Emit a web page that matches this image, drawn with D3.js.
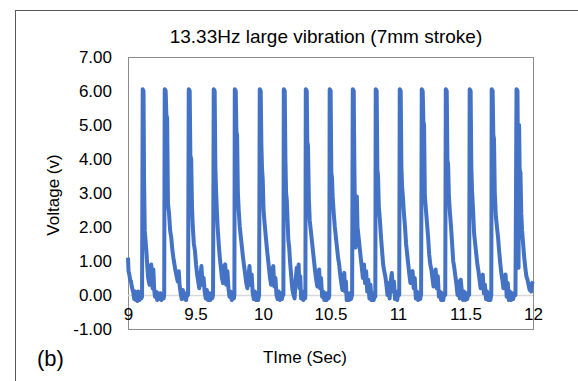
<!DOCTYPE html>
<html>
<head>
<meta charset="utf-8">
<script src="https://cdn.jsdelivr.net/npm/d3@7"></script>
<style>
  html, body { margin: 0; padding: 0; background: #fff; }
  svg { display: block; font-family: "Liberation Sans", Arial, sans-serif; }
</style>
</head>
<body>
<div id="chart"></div>
<script>
const title = '13.33Hz large vibration (7mm stroke)';
const xLabel = 'TIme (Sec)';
const yLabel = 'Voltage (v)';
const panelLabel = '(b)';
const xTicks = [9, 9.5, 10, 10.5, 11, 11.5, 12];
const yTicks = [-1, 0, 1, 2, 3, 4, 5, 6, 7];

// one line per pulse
const time = [
  9.000, 9.004, 9.010, 9.016, 9.022, 9.028, 9.034, 9.040, 9.046, 9.052, 9.058, 9.064, 9.070, 9.076, 9.084, 9.092, 9.098, 9.104,
  9.109, 9.115, 9.119, 9.124, 9.130, 9.136, 9.142, 9.148, 9.154, 9.160, 9.166, 9.172, 9.178, 9.182, 9.188, 9.194, 9.200, 9.208, 9.216, 9.224, 9.232, 9.240, 9.248, 9.256, 9.264, 9.268,
  9.272, 9.279, 9.284, 9.290, 9.296, 9.304, 9.312, 9.320, 9.328, 9.336, 9.344, 9.352, 9.360, 9.368, 9.376, 9.382, 9.390, 9.398, 9.406, 9.414, 9.422, 9.430, 9.438, 9.445,
  9.450, 9.457, 9.462, 9.468, 9.474, 9.480, 9.488, 9.496, 9.504, 9.512, 9.520, 9.528, 9.536, 9.544, 9.552, 9.560, 9.568, 9.576, 9.584, 9.592, 9.600, 9.608, 9.616, 9.624, 9.630,
  9.635, 9.642, 9.647, 9.652, 9.658, 9.664, 9.672, 9.680, 9.688, 9.696, 9.704, 9.712, 9.720, 9.728, 9.736, 9.744, 9.752, 9.760, 9.768, 9.776, 9.784, 9.788,
  9.791, 9.798, 9.803, 9.808, 9.814, 9.820, 9.828, 9.836, 9.844, 9.852, 9.860, 9.868, 9.876, 9.884, 9.892, 9.900, 9.908, 9.916, 9.924, 9.932, 9.940, 9.948, 9.956, 9.964, 9.971,
  9.976, 9.983, 9.988, 9.993, 9.998, 10.004, 10.012, 10.020, 10.028, 10.036, 10.044, 10.052, 10.060, 10.068, 10.076, 10.084, 10.092, 10.100, 10.108, 10.116, 10.124, 10.132, 10.140, 10.148, 10.151,
  10.154, 10.161, 10.166, 10.171, 10.176, 10.182, 10.188, 10.194, 10.200, 10.206, 10.212, 10.218, 10.226, 10.234, 10.242, 10.250, 10.258, 10.264, 10.270, 10.276, 10.282, 10.290, 10.298, 10.306, 10.312, 10.314,
  10.317, 10.324, 10.328, 10.333, 10.340, 10.346, 10.354, 10.362, 10.370, 10.378, 10.386, 10.394, 10.402, 10.410, 10.416, 10.422, 10.430, 10.438, 10.446, 10.454, 10.462, 10.470, 10.478, 10.486, 10.491,
  10.494, 10.501, 10.506, 10.511, 10.516, 10.524, 10.532, 10.540, 10.548, 10.556, 10.564, 10.572, 10.580, 10.588, 10.596, 10.602, 10.608, 10.614, 10.620, 10.628, 10.636, 10.644, 10.652, 10.660,
  10.665, 10.672, 10.677, 10.681, 10.686, 10.690, 10.695, 10.700, 10.708, 10.716, 10.724, 10.732, 10.740, 10.748, 10.756, 10.764, 10.772, 10.780, 10.788, 10.796, 10.804, 10.812, 10.820, 10.828, 10.832,
  10.835, 10.842, 10.847, 10.852, 10.858, 10.866, 10.874, 10.882, 10.890, 10.898, 10.906, 10.914, 10.922, 10.930, 10.938, 10.946, 10.954, 10.962, 10.970, 10.978, 10.986, 10.994, 11.002, 11.009,
  11.013, 11.020, 11.025, 11.030, 11.036, 11.044, 11.052, 11.060, 11.068, 11.076, 11.084, 11.092, 11.100, 11.108, 11.116, 11.124, 11.132, 11.140, 11.148, 11.156, 11.164, 11.171,
  11.176, 11.183, 11.188, 11.193, 11.199, 11.207, 11.215, 11.223, 11.231, 11.239, 11.247, 11.255, 11.263, 11.271, 11.279, 11.287, 11.295, 11.303, 11.311, 11.319, 11.327, 11.335, 11.343, 11.350,
  11.354, 11.361, 11.366, 11.371, 11.377, 11.385, 11.393, 11.401, 11.409, 11.417, 11.425, 11.433, 11.441, 11.449, 11.457, 11.465, 11.473, 11.481, 11.489, 11.497, 11.505, 11.513, 11.521, 11.527,
  11.531, 11.538, 11.543, 11.548, 11.556, 11.564, 11.572, 11.580, 11.588, 11.596, 11.604, 11.612, 11.620, 11.628, 11.636, 11.644, 11.652, 11.660, 11.668, 11.676, 11.684, 11.691,
  11.694, 11.701, 11.706, 11.711, 11.717, 11.725, 11.733, 11.741, 11.749, 11.757, 11.765, 11.773, 11.781, 11.789, 11.797, 11.805, 11.813, 11.821, 11.829, 11.837, 11.845, 11.853, 11.861, 11.870,
  11.878, 11.885, 11.889, 11.893, 11.897, 11.901, 11.907, 11.913, 11.919, 11.927, 11.935, 11.943, 11.951, 11.959, 11.967, 11.975, 11.981, 11.987, 11.993, 12.000
];

const voltage = [
  1.10, 0.70, 0.60, 0.45, 0.40, 0.25, 0.15, 0.05, -0.12, 0.10, -0.15, 0.05, -0.18, 0.10, -0.15, 0.05, -0.10, -0.05,
  6.05, 6.00, 3.40, 1.90, 1.60, 1.30, 0.90, 0.55, 0.40, 0.30, 0.75, 0.90, 0.55, 0.20, 0.75, 0.15, -0.05, 0.10, -0.15, 0.05, -0.12, 0.05, -0.15, 0.00, -0.10, 0.00,
  6.05, 6.00, 5.30, 5.20, 2.70, 2.40, 1.90, 1.70, 1.35, 1.10, 0.90, 0.70, 0.55, 0.40, 0.70, 0.30, 0.05, -0.12, 0.15, -0.10, 0.05, -0.15, 0.05, 0.00,
  6.05, 6.00, 4.10, 4.00, 2.60, 2.00, 1.50, 1.30, 0.90, 0.60, 0.40, 0.20, 0.55, 0.85, 0.30, 0.50, 0.10, -0.10, 0.15, -0.15, 0.05, -0.15, 0.05, -0.10, 0.00,
  6.05, 6.00, 3.80, 3.10, 2.50, 2.00, 1.50, 1.10, 0.80, 0.50, 0.35, 0.85, 0.90, 0.30, 0.70, 0.20, -0.05, 0.10, -0.15, 0.05, -0.10, 0.00,
  6.05, 6.00, 4.80, 4.70, 3.00, 2.50, 2.00, 1.70, 1.40, 1.10, 0.85, 0.60, 0.35, 0.20, 0.55, 0.85, 0.30, 0.60, 0.05, -0.12, 0.10, -0.15, 0.05, -0.15, 0.00,
  6.05, 6.00, 4.40, 3.70, 3.40, 2.50, 2.10, 1.75, 1.40, 1.10, 0.80, 0.50, 0.30, 0.70, 0.85, 0.25, 0.50, 0.00, -0.12, 0.10, -0.15, 0.05, -0.12, 0.05, 0.00,
  6.05, 6.00, 4.00, 3.00, 2.80, 2.20, 1.60, 1.40, 1.00, 0.70, 0.40, 0.15, 0.00, -0.10, 0.45, 0.80, 0.50, 0.90, 0.20, 0.55, -0.10, 0.10, -0.15, 0.05, -0.10, 0.00,
  6.05, 6.00, 4.50, 4.40, 2.80, 2.20, 1.90, 1.60, 1.30, 1.00, 0.70, 0.45, 0.25, 0.60, 0.75, 0.20, 0.50, -0.05, 0.10, -0.15, 0.05, -0.15, 0.05, -0.10, 0.00,
  6.05, 6.00, 3.60, 3.45, 2.90, 2.40, 2.00, 1.70, 1.40, 1.10, 0.90, 0.60, 0.35, 0.15, 0.55, 0.65, 0.10, 0.40, -0.15, 0.05, -0.15, 0.05, -0.12, 0.00,
  6.05, 6.00, 3.70, 2.50, 1.40, 2.80, 2.90, 2.00, 1.70, 1.40, 1.10, 0.80, 0.50, 0.90, 0.35, 0.70, 0.10, 0.45, -0.10, 0.30, -0.15, 0.05, -0.15, 0.00, -0.05,
  6.05, 6.00, 3.70, 3.50, 2.60, 2.20, 1.70, 1.30, 0.90, 0.70, 0.55, 0.30, 0.00, 0.35, -0.10, 0.40, 0.65, 0.10, 0.40, -0.12, 0.10, -0.15, 0.05, 0.00,
  6.05, 6.00, 3.80, 3.20, 2.90, 2.40, 2.00, 1.50, 1.20, 0.90, 0.60, 0.35, 0.65, 0.70, 0.20, 0.50, -0.10, 0.10, -0.15, 0.05, -0.12, 0.00,
  6.05, 6.00, 5.10, 5.00, 2.90, 2.50, 2.10, 1.70, 1.20, 0.90, 0.75, 0.50, 0.25, 0.55, 0.75, 0.20, 0.55, -0.05, 0.10, -0.15, 0.05, -0.15, 0.05, 0.00,
  6.05, 6.00, 3.95, 3.85, 2.90, 2.40, 2.00, 1.50, 1.00, 0.80, 0.55, 0.30, 0.00, 0.40, -0.10, 0.45, 0.10, -0.15, 0.10, -0.15, 0.05, -0.12, 0.05, 0.00,
  6.05, 6.00, 3.80, 3.10, 2.50, 1.80, 1.50, 1.20, 0.90, 0.70, 0.45, 0.20, 0.45, 0.60, 0.05, 0.30, -0.12, 0.10, -0.15, 0.05, -0.15, 0.00,
  6.05, 6.00, 4.70, 4.60, 3.00, 2.30, 2.00, 1.70, 1.30, 0.95, 0.65, 0.45, 0.20, 0.50, 0.60, -0.05, 0.35, -0.15, 0.10, -0.15, 0.05, -0.12, 0.05, 0.00,
  6.05, 6.00, 3.60, 0.80, 5.00, 3.70, 3.60, 2.40, 1.90, 1.50, 1.10, 0.80, 0.55, 0.45, 0.30, 0.15, 0.25, 0.10, 0.35, 0.40
];

const width = 578;
const height = 381;
const plot = { left: 128, right: 533, top: 57, bottom: 329 };
const font = '"Liberation Sans", Arial, sans-serif';

const svg = d3.select('#chart')
  .append('svg')
  .attr('width', width)
  .attr('height', height);

// outer frame of the figure (runs off the right and bottom edges)
svg.append('rect')
  .attr('x', 15.5)
  .attr('y', 10.5)
  .attr('width', 700)
  .attr('height', 500)
  .attr('fill', 'none')
  .attr('stroke', '#595959')
  .attr('stroke-width', 1);

const x = d3.scaleLinear().domain([9, 12]).range([plot.left, plot.right]);
const y = d3.scaleLinear().domain([-1, 7]).range([plot.bottom, plot.top]);

// Plot border
svg.append('rect')
  .attr('x', plot.left + 0.5)
  .attr('y', plot.top + 0.5)
  .attr('width', plot.right - plot.left)
  .attr('height', plot.bottom - plot.top)
  .attr('fill', 'none')
  .attr('stroke', '#8c8c8c')
  .attr('stroke-width', 1);

// Zero line
svg.append('line')
  .attr('x1', plot.left)
  .attr('x2', plot.right)
  .attr('y1', Math.round(y(0)) + 0.5)
  .attr('y2', Math.round(y(0)) + 0.5)
  .attr('stroke', '#d9d9d9')
  .attr('stroke-width', 1.5);

// Y axis
const yAxis = svg.append('g')
  .attr('transform', `translate(${plot.left},0)`)
  .call(d3.axisLeft(y).tickValues(yTicks).tickSize(0).tickPadding(16)
    .tickFormat(d => d.toFixed(2)));
yAxis.select('.domain').remove();
yAxis.selectAll('text')
  .attr('font-size', 17)
  .attr('font-family', font)
  .attr('fill', '#000');

// X axis sits on the zero line
const xAxis = svg.append('g')
  .attr('transform', `translate(0,${y(0)})`)
  .call(d3.axisBottom(x).tickValues(xTicks).tickSize(0).tickPadding(13).tickFormat(d => String(d)));
xAxis.select('.domain').remove();
xAxis.selectAll('text')
  .attr('font-size', 17)
  .attr('font-family', font)
  .attr('fill', '#000');

// Line
const line = d3.line()
  .x(i => x(time[i]))
  .y(i => y(voltage[i]));

svg.append('path')
  .datum(d3.range(time.length))
  .attr('fill', 'none')
  .attr('stroke', '#4472c4')
  .attr('stroke-width', 4)
  .attr('stroke-linejoin', 'round')
  .attr('d', line);

// Titles
svg.append('text')
  .attr('x', 326)
  .attr('y', 43)
  .attr('text-anchor', 'middle')
  .attr('font-size', 19)
  .attr('fill', '#000')
  .text(title);

svg.append('text')
  .attr('x', 305)
  .attr('y', 363)
  .attr('text-anchor', 'middle')
  .attr('font-size', 17)
  .attr('fill', '#000')
  .text(xLabel);

svg.append('text')
  .attr('transform', `translate(59,${(plot.top + plot.bottom) / 2 + 2}) rotate(-90)`)
  .attr('text-anchor', 'middle')
  .attr('font-size', 17)
  .attr('fill', '#000')
  .text(yLabel);

svg.append('text')
  .attr('x', 37)
  .attr('y', 366)
  .attr('font-size', 22)
  .attr('fill', '#000')
  .text(panelLabel);
</script>
</body>
</html>
